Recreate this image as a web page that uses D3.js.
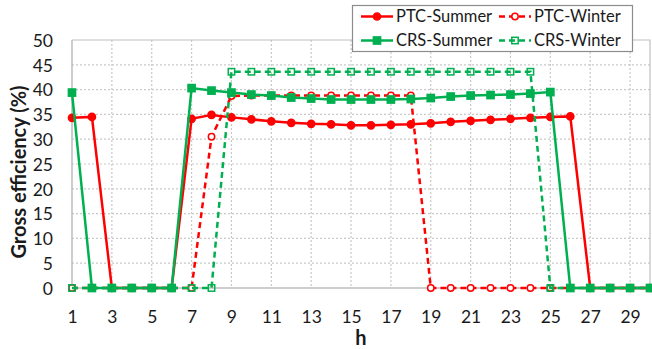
<!DOCTYPE html>
<html>
<head>
<meta charset="utf-8">
<script src="https://cdn.jsdelivr.net/npm/d3@7/dist/d3.min.js"></script>
<style>
  html, body { margin: 0; padding: 0; background: #fff; }
  svg { display: block; font-family: Lato, "Open Sans", sans-serif; }
</style>
</head>
<body>
<svg id="chart" width="652" height="349"></svg>
<script>
// Hours of the day
const hours = d3.range(1, 31);

// Gross efficiency (%) per hour
const ptcSummer = [34.3, 34.5, 0, 0, 0, 0, 34.1, 34.9, 34.4, 34.0, 33.6, 33.3, 33.1, 33.0, 32.8,
                   32.8, 32.9, 33.0, 33.2, 33.5, 33.7, 33.9, 34.1, 34.3, 34.5, 34.6, 0, 0, 0, 0];
const ptcWinter = [0, 0, 0, 0, 0, 0, 0, 30.5, 38.7, 38.8, 38.8, 38.8, 38.8, 38.8, 38.8,
                   38.8, 38.8, 38.8, 0, 0, 0, 0, 0, 0, 0, 0, 0, 0, 0, 0];
const crsSummer = [39.4, 0, 0, 0, 0, 0, 40.3, 39.8, 39.4, 39.0, 38.8, 38.4, 38.2, 38.0, 38.0,
                   38.0, 38.0, 38.1, 38.3, 38.6, 38.8, 38.9, 39.0, 39.2, 39.5, 0, 0, 0, 0, 0];
const crsWinter = [0, 0, 0, 0, 0, 0, 0, 0, 43.6, 43.6, 43.6, 43.6, 43.6, 43.6, 43.6,
                   43.6, 43.6, 43.6, 43.6, 43.6, 43.6, 43.6, 43.6, 43.6, 0, 0, 0, 0, 0, 0];

const xTicks = d3.range(1, 30, 2);
const yTicks = d3.range(0, 55, 5);

const RED = "#ff0000", GREEN = "#00b050";

const series = [
  { name: "PTC-Summer", values: ptcSummer, color: RED,   dashed: false, shape: "circle", filled: true },
  { name: "PTC-Winter", values: ptcWinter, color: RED,   dashed: true,  shape: "circle", filled: false },
  { name: "CRS-Summer", values: crsSummer, color: GREEN, dashed: false, shape: "square", filled: true },
  { name: "CRS-Winter", values: crsWinter, color: GREEN, dashed: true,  shape: "square", filled: false }
];
// summer CRS on top so its squares cover the zero row
const drawOrder = [0, 1, 3, 2];

const svg = d3.select("#chart");
const plotLeft = 72, plotRight = 650, plotTop = 40, plotBottom = 288;

const x = d3.scaleLinear().domain([1, 30]).range([plotLeft, plotRight]);
const y = d3.scaleLinear().domain([0, 50]).range([plotBottom, plotTop]);

// gridlines
const grid = svg.append("g");
grid.selectAll("line.h").data(yTicks.filter(v => v > 0 && v < 50)).join("line")
  .attr("x1", plotLeft).attr("x2", plotRight)
  .attr("y1", d => y(d)).attr("y2", d => y(d))
  .attr("stroke", "#c8c8c8").attr("stroke-width", 1.2).attr("stroke-dasharray", "2,2");
grid.selectAll("line.v").data(xTicks.filter(v => v > 1)).join("line")
  .attr("x1", d => x(d)).attr("x2", d => x(d))
  .attr("y1", plotTop).attr("y2", plotBottom)
  .attr("stroke", "#c8c8c8").attr("stroke-width", 1.2).attr("stroke-dasharray", "2,2");

// plot frame: top and right border, axis lines
svg.append("path")
  .attr("d", `M${plotLeft},${plotTop}H${plotRight}V${plotBottom}`)
  .attr("fill", "none").attr("stroke", "#c0c0c0").attr("stroke-width", 1.2);
svg.append("line").attr("x1", plotLeft).attr("x2", plotRight).attr("y1", plotBottom).attr("y2", plotBottom)
  .attr("stroke", "#bdbdbd").attr("stroke-width", 1.5);
svg.append("line").attr("x1", plotLeft).attr("x2", plotLeft).attr("y1", plotTop).attr("y2", plotBottom)
  .attr("stroke", "#bdbdbd").attr("stroke-width", 1.5);

// axes (labels only)
const xAxis = svg.append("g").attr("transform", `translate(0,${plotBottom})`)
  .call(d3.axisBottom(x).tickValues(xTicks).tickSize(0).tickPadding(0).tickFormat(d3.format("d")));
xAxis.select(".domain").remove();
xAxis.selectAll("text").attr("dy", null).attr("y", 35)
  .attr("font-size", 17.5).attr("fill", "#1a1a1a").attr("font-family", "Lato, sans-serif");

const yAxis = svg.append("g").attr("transform", `translate(${plotLeft},0)`)
  .call(d3.axisLeft(y).tickValues(yTicks).tickSize(0).tickPadding(19));
yAxis.select(".domain").remove();
yAxis.selectAll("text").attr("font-size", 17.5).attr("fill", "#1a1a1a")
  .attr("font-family", "Lato, sans-serif").attr("dy", "0.36em");

// axis titles
svg.append("text").attr("x", 361).attr("y", 345).attr("text-anchor", "middle")
  .attr("font-weight", "bold").attr("font-size", 20).attr("fill", "#1a1a1a").text("h");
svg.append("text").attr("transform", "translate(26,172) rotate(-90)").attr("text-anchor", "middle")
  .attr("font-weight", "bold").attr("font-size", 20).attr("fill", "#1a1a1a").text("Gross efficiency (%)");

// marker drawing
function marker(g, s, cx, cy) {
  if (s.shape === "circle") {
    g.append("circle").attr("cx", cx).attr("cy", cy).attr("r", s.filled ? 3.6 : 3.2)
      .attr("fill", s.filled ? s.color : "#fff").attr("stroke", s.color).attr("stroke-width", 1.5);
  } else {
    const h = s.filled ? 3.6 : 3.2;
    g.append("rect").attr("x", cx - h).attr("y", cy - h).attr("width", 2 * h).attr("height", 2 * h)
      .attr("fill", s.filled ? s.color : "none").attr("stroke", s.color).attr("stroke-width", 1.5);
  }
}

const line = d3.line().x((d, i) => x(hours[i])).y(d => y(d));

drawOrder.forEach(k => {
  const s = series[k];
  const g = svg.append("g");
  g.append("path").datum(s.values).attr("d", line)
    .attr("fill", "none").attr("stroke", s.color).attr("stroke-width", 2.5)
    .attr("stroke-dasharray", s.dashed ? "6,4" : null);
  s.values.forEach((v, i) => marker(g, s, x(hours[i]), y(v)));
});

// legend
const lg = svg.append("g");
lg.append("rect").attr("x", 352.5).attr("y", 5.5).attr("width", 280).attr("height", 46)
  .attr("fill", "#fff").attr("stroke", "#8c8c8c").attr("stroke-width", 1.2);
const legendPos = [
  { k: 0, x: 361, y: 16.5 }, { k: 1, x: 499, y: 16.5 },
  { k: 2, x: 361, y: 40.5 }, { k: 3, x: 499, y: 40.5 }
];
legendPos.forEach(p => {
  const s = series[p.k];
  lg.append("line").attr("x1", p.x).attr("x2", p.x + 32).attr("y1", p.y).attr("y2", p.y)
    .attr("stroke", s.color).attr("stroke-width", 2.5).attr("stroke-dasharray", s.dashed ? "6,4" : null);
  marker(lg, s, p.x + 16, p.y);
  lg.append("text").attr("x", p.x + 35).attr("y", p.y).attr("dy", "0.36em")
    .attr("font-size", 16.5).attr("fill", "#1a1a1a").text(s.name);
});
</script>
</body>
</html>
